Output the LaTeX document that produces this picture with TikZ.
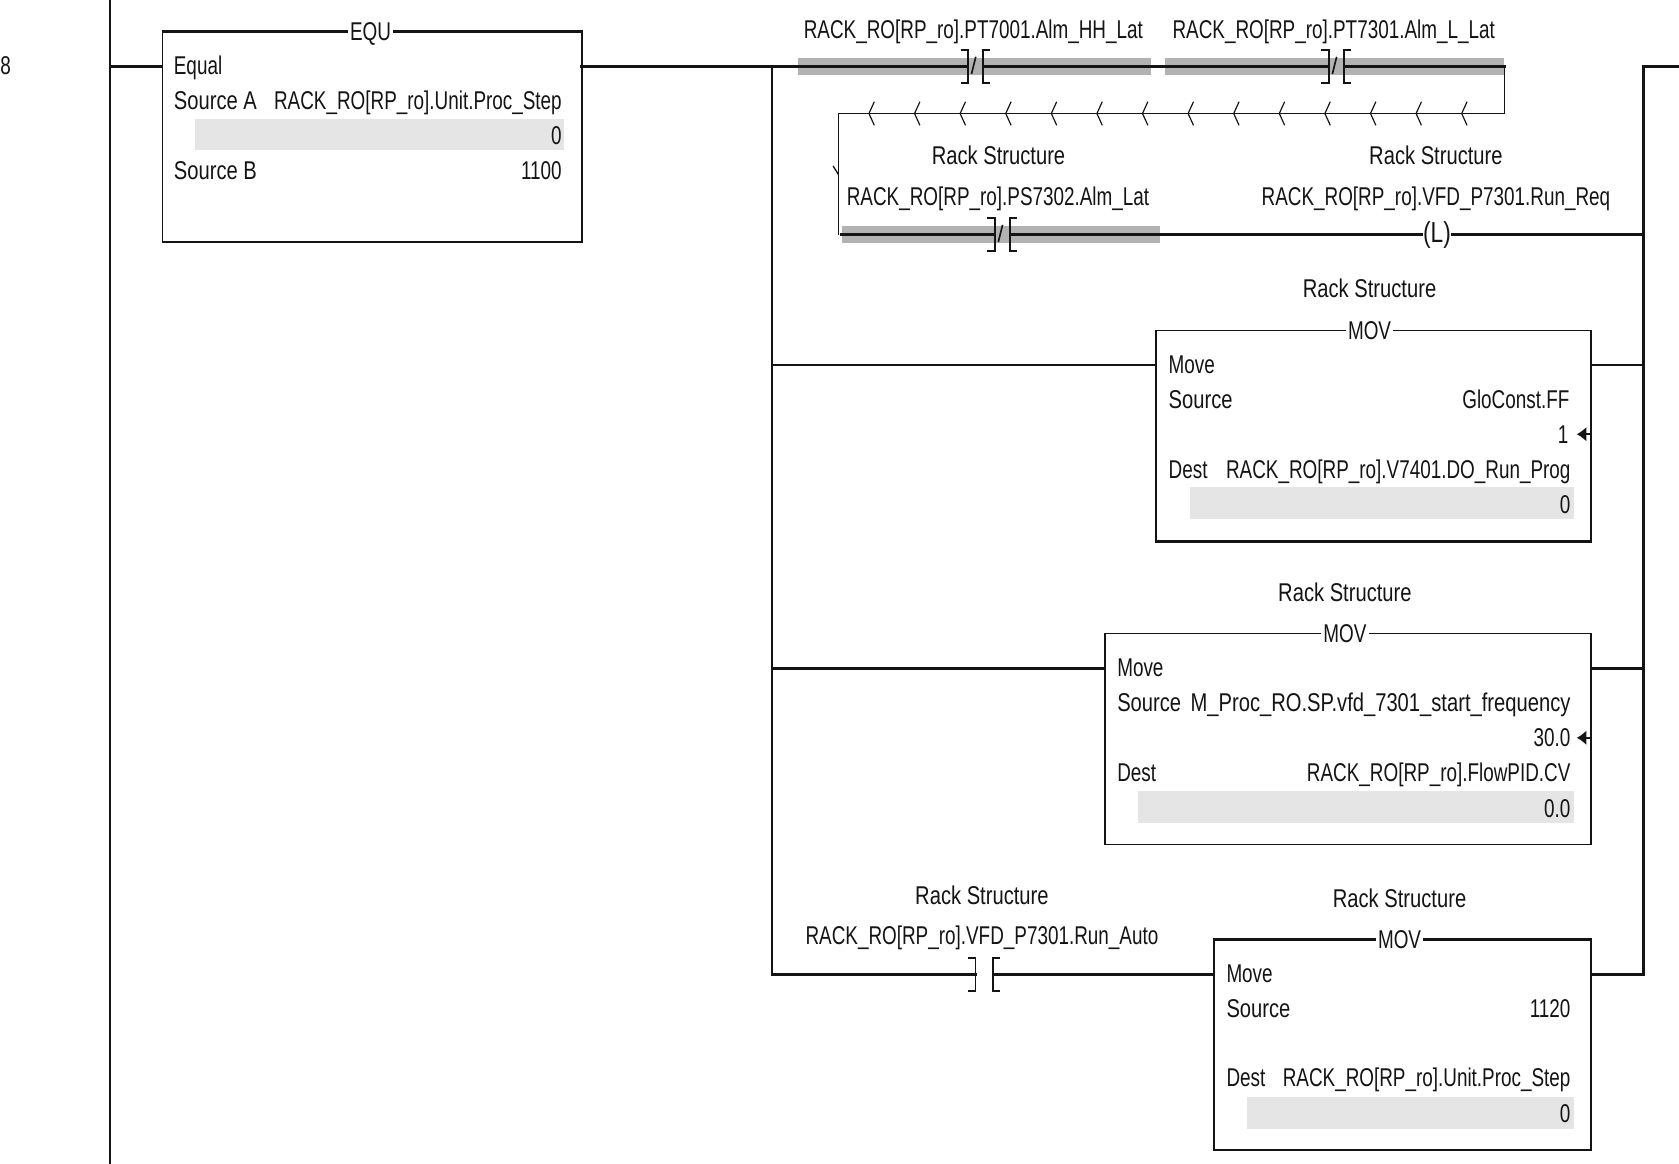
\documentclass[tikz,border=0pt]{standalone}
\usepackage{fontspec}
\setmainfont{Liberation Sans}[FakeStretch=0.735]
\newfontfamily\widerface{Liberation Sans}[FakeStretch=0.785]
\usetikzlibrary{arrows.meta}
\tikzset{
  heavy/.style={line width=1.25pt,black!92,line cap=rect},
  light/.style={line width=0.75pt,black!92},
  hilite/.style={fill=black!30,draw=none},
  valbg/.style={fill=black!10,draw=none},
  instr/.style={draw=black!92,line width=0.75pt,fill=white,inner sep=0pt,anchor=north west},
  tl/.style={anchor=base west,inner sep=0pt},
  tr/.style={anchor=base east,inner sep=0pt},
  tc/.style={anchor=base,inner sep=0pt},
  title/.style={anchor=center,inner sep=0pt,fill=white,inner xsep=1pt,text height=9pt,text depth=0pt},
  brk/.style={line width=0.9pt,black!92},
  coilnode/.style={anchor=center,inner sep=0pt,fill=white,text height=10pt,text depth=3pt,font=\widerface\fontsize{13.5}{15}\selectfont},
  backarrow/.style={line width=1pt,black!92,-{Latex[length=4.5pt,width=7pt]}},
}
% contact: name, x of centre, y, half gap of brackets, half height
\newcommand{\contactpair}[5]{%
  \coordinate (#1l) at ({#2-#4},#3);
  \coordinate (#1r) at ({#2+#4},#3);
  \draw[brk] ({#2-#4-7},{#3-#5}) -- ({#2-#4},{#3-#5}) -- ({#2-#4},{#3+#5}) -- ({#2-#4-7},{#3+#5});
  \draw[brk] ({#2+#4+7},{#3-#5}) -- ({#2+#4},{#3-#5}) -- ({#2+#4},{#3+#5}) -- ({#2+#4+7},{#3+#5});
}
\newcommand{\contactslash}[2]{%
  \draw[light] ({#1+1.8},{#2-9}) -- ({#1-2.2},{#2+7});
}
\begin{document}
\begin{tikzpicture}[x=0.5pt,y=-0.5pt,every node/.style={font=\fontsize{12}{14}\selectfont,text=black!92}]
\useasboundingbox (0,0) rectangle (1568,1087);
\fill[white] (0,0) rectangle (1568,1087);

% highlights
\fill[hilite] (745,54.5) rectangle (1075,70);
\fill[hilite] (1088,54.5) rectangle (1405,70);
\fill[hilite] (786,211) rectangle (1083,227);

% rails
\coordinate (railtop) at (103,0);
\coordinate (railbot) at (103,1087);
\draw[light] (railtop) -- (railbot);
\node[tl] (rungno) at (0,69.5) {8};

% coordinates of the rung network
\coordinate (r0) at (103,62);
\coordinate (eqw) at (151,62);
\coordinate (eqe) at (543,62);
\coordinate (bL) at (721,62);
\coordinate (bLb) at (721,910);
\coordinate (bR) at (1535,62);
\coordinate (bRb) at (1535,910);
\coordinate (edge) at (1568,62);
\coordinate (wrapA) at (1405,62);
\coordinate (wrapB) at (1405,106);
\coordinate (wrapC) at (783,106);
\coordinate (wrapD) at (783,219);
\coordinate (rung3) at (1535,219);

% instruction boxes
\node[instr,minimum width=196pt,minimum height=98pt] (equ) at (151,29) {};
\node[instr,minimum width=203pt,minimum height=98pt] (mov1) at (1079,308) {};
\node[instr,minimum width=227pt,minimum height=98.5pt] (mov2) at (1031,591) {};
\node[instr,minimum width=176pt,minimum height=98pt] (mov3) at (1133,877) {};
\draw[heavy,line cap=butt] (equ.north west) -- (equ.north east);
\draw[heavy,line cap=butt] (mov1.south west) -- (mov1.south east);
\draw[heavy,line cap=butt] (mov3.north west) -- (mov3.north east);

% value backgrounds
\fill[valbg] (182,111) rectangle (527,140);
\fill[valbg] (1111,455) rectangle (1470,485);
\fill[valbg] (1063,739) rectangle (1470,769);
\fill[valbg] (1165,1024) rectangle (1470,1054);

% contacts
\contactpair{ca}{911}{62}{7}{15.5}
\contactslash{909.5}{62}
\contactpair{cb}{1248}{62}{7}{15.5}
\contactslash{1246.5}{62}
\contactpair{cc}{936}{219}{7}{15.5}
\contactslash{934.5}{219}
\contactpair{cd}{919}{910}{8}{15.5}

% coil
\node[coilnode] (coil) at (1342,219) {(L)};

% wires
\draw[heavy] (r0) -- (eqw);
\draw[heavy] (eqe) -- (bL);
\draw[heavy] (bL) -- (bLb);
\draw[heavy] (bR) -- (bRb);
\draw[heavy] (bR) -- (edge);
\draw[heavy] (bL) -- (cal);
\draw[heavy] (car) -- (cbl);
\draw[heavy] (cbr) -- (wrapA);
\draw[light] (wrapA) -- (wrapB) -- (wrapC) -- (wrapD);
\draw[heavy] (wrapD) ++(3,0) coordinate (cstart) (cstart) -- (ccl);
\draw[heavy,line cap=butt] (ccr) -- (coil);
\draw[heavy,line cap=butt] (coil) -- (rung3);

\coordinate (m1l) at (721,341);
\coordinate (m1w) at (1079,341);
\coordinate (m1e) at (1486,341);
\coordinate (m1r) at (1535,341);
\draw[light] (m1l) -- (m1w);
\draw[light] (m1e) -- (m1r);
\coordinate (m2l) at (721,624);
\coordinate (m2w) at (1031,624);
\coordinate (m2e) at (1486,624);
\coordinate (m2r) at (1535,624);
\draw[heavy,line cap=butt] (m2l) -- (m2w);
\draw[heavy,line cap=butt] (m2e) -- (m2r);
\coordinate (m3w) at (1133,910);
\coordinate (m3e) at (1486,910);
\draw[heavy] (bLb) -- (cdl);
\draw[heavy,line cap=butt] (cdr) -- (m3w);
\draw[heavy] (m3e) -- (bRb);

% wrap-around chevrons
\foreach \i in {0,...,13} {
  \draw[line width=0.55pt,black!92] ({811.5+42.58*\i+5},95) -- ({811.5+42.58*\i},106) -- ({811.5+42.58*\i+5},117);
}
\coordinate (tickA) at (778,155);
\coordinate (tickB) at (783,163);
\draw[line width=0.6pt,black!92] (tickA) -- (tickB);

% contact tags
\node[tc] (ta) at (909,35.5) {RACK\_RO[RP\_ro].PT7001.Alm\_HH\_Lat};
\node[tc] (tb) at (1245.5,35.5) {RACK\_RO[RP\_ro].PT7301.Alm\_L\_Lat};
\node[tc] (rc) at (932.5,153.5) {\widerface Rack Structure};
\node[tc] (tc1) at (932,191.5) {RACK\_RO[RP\_ro].PS7302.Alm\_Lat};
\node[tc] (rcoil) at (1341,153.5) {\widerface Rack Structure};
\node[tc] (tcoil) at (1341,191.5) {RACK\_RO[RP\_ro].VFD\_P7301.Run\_Req};
\node[tc] (rd) at (917,844.5) {\widerface Rack Structure};
\node[tc] (td) at (917,882.5) {RACK\_RO[RP\_ro].VFD\_P7301.Run\_Auto};

% EQU
\node[title] (equt) at (346,29) {EQU};
\node[tl] (e1) at (162,69.5) {Equal};
\node[tl] (e2) at (162,102.5) {\widerface Source A};
\node[tr] (e3) at (525,102.5) {RACK\_RO[RP\_ro].Unit.Proc\_Step};
\node[tr] (e4) at (525,134.5) {0};
\node[tl] (e5) at (162,167.5) {\widerface Source B};
\node[tr] (e6) at (525,167.5) {1100};

% MOV 1
\node[tc] (m1rs) at (1279,277.5) {\widerface Rack Structure};
\node[title] (m1t) at (1279,308) {MOV};
\node[tl] (m1a) at (1091,348.5) {Move};
\node[tl] (m1b) at (1091,381.5) {\widerface Source};
\node[tr] (m1c) at (1466,381.5) {GloConst.FF};
\node[tr] (m1d) at (1465,414.5) {1};
\node[tl] (m1f) at (1091,447) {Dest};
\node[tr] (m1g) at (1467,447) {RACK\_RO[RP\_ro].V7401.DO\_Run\_Prog};
\node[tr] (m1h) at (1467,479.5) {0};
\coordinate (m1aa) at (1486,405.5);
\coordinate (m1ab) at (1472.5,405.5);
\draw[backarrow] (m1aa) -- (m1ab);

% MOV 2
\node[tc] (m2rs) at (1256,561.5) {\widerface Rack Structure};
\node[title] (m2t) at (1256,591) {MOV};
\node[tl] (m2a) at (1043,631.5) {Move};
\node[tl] (m2b) at (1043,664.5) {\widerface Source};
\node[tr] (m2c) at (1467,664.5) {\widerface M\_Proc\_RO.SP.vfd\_7301\_start\_frequency};
\node[tr] (m2d) at (1467,697.5) {30.0};
\node[tl] (m2f) at (1043,730) {Dest};
\node[tr] (m2g) at (1467,730) {RACK\_RO[RP\_ro].FlowPID.CV};
\node[tr] (m2h) at (1467,763.5) {0.0};
\coordinate (m2aa) at (1486,689);
\coordinate (m2ab) at (1472.5,689);
\draw[backarrow] (m2aa) -- (m2ab);

% MOV 3
\node[tc] (m3rs) at (1307,847.5) {\widerface Rack Structure};
\node[title] (m3t) at (1307,877) {MOV};
\node[tl] (m3a) at (1145,917.5) {Move};
\node[tl] (m3b) at (1145,950.5) {\widerface Source};
\node[tr] (m3c) at (1467,950.5) {1120};
\node[tl] (m3f) at (1145,1015) {Dest};
\node[tr] (m3g) at (1467,1015) {RACK\_RO[RP\_ro].Unit.Proc\_Step};
\node[tr] (m3h) at (1467,1048.5) {0};
\end{tikzpicture}
\end{document}
